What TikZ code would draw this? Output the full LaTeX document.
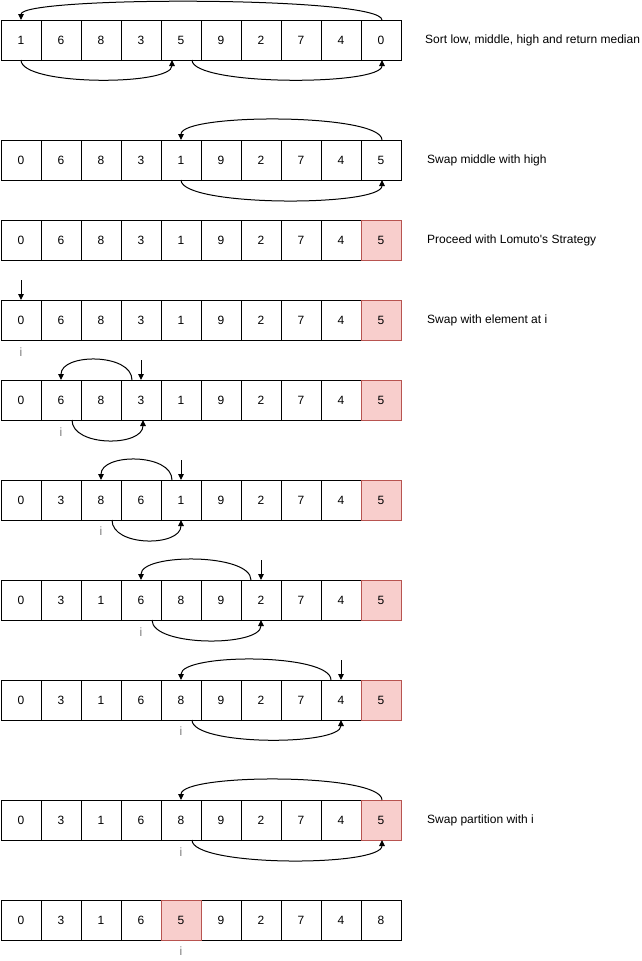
\documentclass[tikz,border=0pt]{standalone}
\usepackage{fontspec}
\setmainfont{Liberation Sans}
\usetikzlibrary{arrows.meta}
\definecolor{hotfill}{HTML}{F8CECC}
\definecolor{hotdraw}{HTML}{B85450}
\definecolor{igray}{HTML}{7A7A7A}
\newcommand\cellrow[4]{%
  \foreach \v [count=\k from 0] in {#3} {%
    \ifnum\k=#4\relax
      \node[hot] (r#1c\k) at ({21+40*\k},#2) {\v};
    \else
      \node[cell] (r#1c\k) at ({21+40*\k},#2) {\v};
    \fi}}
\begin{document}
\begin{tikzpicture}[x=1pt,y=-1pt,
  cell/.style={draw=black, line width=1pt, minimum width=40pt, minimum height=40pt, inner sep=0pt, outer sep=0pt, fill=white, font=\fontsize{12}{14}\selectfont},
  hot/.style={cell, fill=hotfill, draw=hotdraw},
  lbl/.style={anchor=west, inner sep=0pt, font=\fontsize{12}{14}\selectfont},
  idx/.style={inner sep=0pt, text=igray, font=\fontsize{12}{14}\selectfont},
  arr/.style={line width=1pt, -{Triangle[length=6pt,width=5.5pt]}},
]
\useasboundingbox (0,0) rectangle (642,961);

% rows of cells
\cellrow{1}{40}{1,6,8,3,5,9,2,7,4,0}{-1}
\cellrow{2}{160}{0,6,8,3,1,9,2,7,4,5}{-1}
\cellrow{3}{240}{0,6,8,3,1,9,2,7,4,5}{9}
\cellrow{4}{320}{0,6,8,3,1,9,2,7,4,5}{9}
\cellrow{5}{400}{0,6,8,3,1,9,2,7,4,5}{9}
\cellrow{6}{500}{0,3,8,6,1,9,2,7,4,5}{9}
\cellrow{7}{600}{0,3,1,6,8,9,2,7,4,5}{9}
\cellrow{8}{700}{0,3,1,6,8,9,2,7,4,5}{9}
\cellrow{9}{820}{0,3,1,6,8,9,2,7,4,5}{9}
\cellrow{10}{920}{0,3,1,6,5,9,2,7,4,8}{4}
\draw[hotdraw, line width=1pt] (r10c4.north west) rectangle (r10c4.south east);

% labels
\node[lbl] (t1) at (425,40) {Sort low, middle, high and return median};
\node[lbl] (t2) at (427,160) {Swap middle with high};
\node[lbl] (t3) at (427,240) {Proceed with Lomuto\textquotesingle s Strategy};
\node[lbl] (t4) at (427,320) {Swap with element at i};
\node[lbl] (t9) at (427,820) {Swap partition with i};

% index labels
\node[idx] (i4) at ([yshift=-12pt]r4c0.south) {i};
\node[idx] (i5) at ([yshift=-12pt]r5c1.south) {i};
\node[idx] (i6) at ([yshift=-11pt]r6c2.south) {i};
\node[idx] (i7) at ([yshift=-12pt]r7c3.south) {i};
\node[idx] (i8) at ([yshift=-11pt]r8c4.south) {i};
\node[idx] (i9) at ([yshift=-12pt]r9c4.south) {i};
\node[idx] (i10) at ([yshift=-11pt]r10c4.south) {i};

% row 1
\draw[arr] ([xshift=1pt]r1c9.north) .. controls +(0,-24) and +(0,-24) .. (r1c0.north);
\draw[arr] (r1c0.south) .. controls +(0,26) and +(0,26) .. ([xshift=-9pt]r1c4.south);
\draw[arr] ([xshift=11pt]r1c4.south) .. controls +(0,26) and +(0,26) .. ([xshift=1pt]r1c9.south);

% row 2
\draw[arr] ([xshift=1pt]r2c9.north) .. controls +(0,-27) and +(0,-27) .. (r2c4.north);
\draw[arr] (r2c4.south) .. controls +(0,27) and +(0,27) .. ([xshift=1pt]r2c9.south);

% row 4
\coordinate (p4) at ([yshift=20pt]r4c0.north);
\draw[arr] (p4) -- (r4c0.north);

% row 5
\coordinate (p5) at ([yshift=20pt]r5c3.north);
\draw[arr] (p5) -- (r5c3.north);
\draw[arr] ([xshift=-9pt]r5c3.north) .. controls +(0,-27) and +(0,-27) .. (r5c1.north);
\draw[arr] ([xshift=11pt]r5c1.south) .. controls +(0,27) and +(0,27) .. ([xshift=2pt]r5c3.south);

% row 6
\coordinate (p6) at ([yshift=20pt]r6c4.north);
\draw[arr] (p6) -- (r6c4.north);
\draw[arr] ([xshift=-9pt]r6c4.north) .. controls +(0,-27) and +(0,-27) .. (r6c2.north);
\draw[arr] ([xshift=11pt]r6c2.south) .. controls +(0,27) and +(0,27) .. (r6c4.south);

% row 7
\coordinate (p7) at ([yshift=20pt]r7c6.north);
\draw[arr] (p7) -- (r7c6.north);
\draw[arr] ([xshift=-10pt]r7c6.north) .. controls +(0,-27) and +(0,-27) .. (r7c3.north);
\draw[arr] ([xshift=11pt]r7c3.south) .. controls +(0,27) and +(0,27) .. (r7c6.south);

% row 8
\coordinate (p8) at ([yshift=20pt]r8c8.north);
\draw[arr] (p8) -- (r8c8.north);
\draw[arr] ([xshift=-10pt]r8c8.north) .. controls +(0,-27) and +(0,-27) .. (r8c4.north);
\draw[arr] ([xshift=11pt]r8c4.south) .. controls +(0,26) and +(0,26) .. (r8c8.south);

% row 9
\draw[arr] ([xshift=1pt]r9c9.north) .. controls +(0,-27) and +(0,-27) .. (r9c4.north);
\draw[arr] ([xshift=11pt]r9c4.south) .. controls +(0,27) and +(0,27) .. ([xshift=1pt]r9c9.south);
\end{tikzpicture}
\end{document}
